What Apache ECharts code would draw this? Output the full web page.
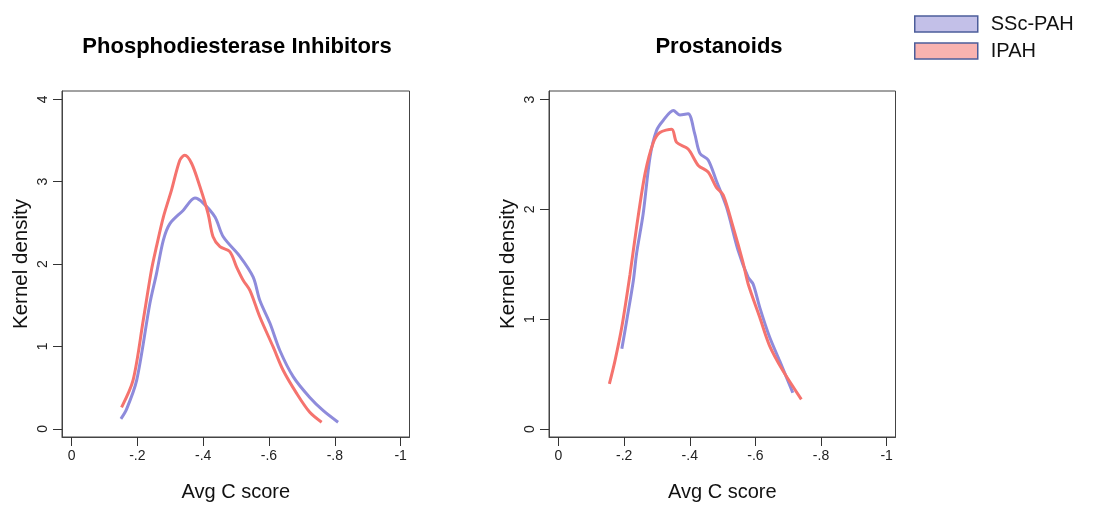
<!DOCTYPE html>
<html>
<head>
<meta charset="utf-8">
<script src="https://cdn.jsdelivr.net/npm/echarts@6/dist/echarts.min.js"></script>
<style>
html,body{margin:0;padding:0;background:#fff;}
#chart{width:1094px;height:511px;}
</style>
</head>
<body>
<div id="chart"></div>
<script>
// ---- data ----
const panelTitles = ['Phosphodiesterase Inhibitors', 'Prostanoids'];
const seriesNames = ['SSc-PAH', 'IPAH'];
const xTicks = [0, -0.2, -0.4, -0.6, -0.8, -1];
const yTicksLeft = [0, 1, 2, 3, 4];
const yTicksRight = [0, 1, 2, 3];

// Phosphodiesterase Inhibitors
const pdeSScX = [-0.15, -0.167, -0.198, -0.238, -0.258, -0.279, -0.299, -0.339, -0.375, -0.40, -0.436, -0.461, -0.512, -0.552, -0.572, -0.603, -0.633, -0.674, -0.724, -0.765, -0.81];
const pdeSScY = [0.12, 0.235, 0.59, 1.52, 1.88, 2.29, 2.49, 2.65, 2.80, 2.74, 2.57, 2.33, 2.09, 1.84, 1.56, 1.28, 0.95, 0.63, 0.38, 0.22, 0.08];
const pdeIpahX = [-0.152, -0.187, -0.218, -0.243, -0.258, -0.279, -0.304, -0.329, -0.344, -0.365, -0.39, -0.415, -0.43, -0.451, -0.481, -0.502, -0.522, -0.542, -0.572, -0.613, -0.643, -0.684, -0.724, -0.76];
const pdeIpahY = [0.26, 0.59, 1.32, 1.93, 2.21, 2.57, 2.90, 3.26, 3.32, 3.22, 2.94, 2.61, 2.33, 2.21, 2.15, 1.96, 1.80, 1.68, 1.36, 0.99, 0.71, 0.43, 0.20, 0.08];

// Prostanoids
const proSScX = [-0.193, -0.208, -0.228, -0.238, -0.258, -0.279, -0.299, -0.319, -0.35, -0.37, -0.395, -0.415, -0.431, -0.456, -0.481, -0.512, -0.547, -0.578, -0.593, -0.613, -0.643, -0.674, -0.714];
const proSScY = [0.73, 0.99, 1.35, 1.60, 1.96, 2.48, 2.72, 2.81, 2.90, 2.86, 2.87, 2.69, 2.51, 2.45, 2.26, 2.02, 1.63, 1.38, 1.32, 1.11, 0.84, 0.62, 0.33];
const proIpahX = [-0.155, -0.172, -0.193, -0.218, -0.238, -0.264, -0.289, -0.309, -0.345, -0.36, -0.395, -0.426, -0.456, -0.481, -0.502, -0.532, -0.562, -0.578, -0.613, -0.643, -0.684, -0.74];
const proIpahY = [0.41, 0.62, 0.93, 1.41, 1.84, 2.33, 2.61, 2.70, 2.73, 2.61, 2.55, 2.40, 2.34, 2.20, 2.13, 1.84, 1.52, 1.32, 1.02, 0.76, 0.53, 0.27];

// ---- helpers ----
const zip = (xs, ys) => xs.map((x, i) => [x, ys[i]]);
const fmtX = v => {
  if (Math.abs(v) < 1e-9) return '0';
  if (Number.isInteger(v)) return String(v);
  return v.toFixed(1).replace('0.', '.');
};
const FONT = '"Liberation Sans", Arial, sans-serif';
const BLUE = '#8e8bdb';
const RED = '#f5736e';
const AXISCOL = '#333';

function xAxisCfg(idx) {
  return {
    type: 'value', gridIndex: idx, inverse: true,
    min: -1.027, max: 0.029,
    axisLine: { show: true, onZero: false, lineStyle: { color: '#444', width: 1 } },
    splitLine: { show: false },
    axisTick: { show: true, inside: false, customValues: xTicks, length: 9, lineStyle: { color: AXISCOL, width: 1 } },
    axisLabel: { customValues: xTicks, formatter: fmtX, color: '#222', fontSize: 14, fontFamily: FONT, margin: 12 },
    name: 'Avg C score', nameLocation: 'middle', nameGap: 45,
    nameTextStyle: { fontSize: 20, fontFamily: FONT, color: '#111' }
  };
}
function yAxisCfg(idx, min, max, ticks) {
  return {
    type: 'value', gridIndex: idx, min: min, max: max,
    axisLine: { show: true, onZero: false, lineStyle: { color: '#444', width: 1 } },
    splitLine: { show: false },
    axisTick: { show: true, inside: false, customValues: ticks, length: 9, lineStyle: { color: AXISCOL, width: 1 } },
    axisLabel: { customValues: ticks, rotate: 90, color: '#222', fontSize: 14, fontFamily: FONT, margin: 12 },
    name: 'Kernel density', nameLocation: 'middle', nameGap: 30,
    nameTextStyle: { fontSize: 20.5, fontFamily: FONT, color: '#111' }
  };
}
function lineSeries(name, data, color, idx) {
  return {
    type: 'line', name: name, xAxisIndex: idx, yAxisIndex: idx,
    data: data, showSymbol: false, symbol: 'none', smooth: 0.3,
    lineStyle: { color: color, width: 3 }, itemStyle: { color: color },
    z: name === 'IPAH' ? 3 : 2
  };
}

const chart = echarts.init(document.getElementById('chart'), null, { renderer: 'canvas' });
chart.setOption({
  animation: false,
  backgroundColor: '#fff',
  title: [
    { text: panelTitles[0], left: 232, top: 31, textAlign: 'center',
      textStyle: { fontSize: 22, fontWeight: 'bold', fontFamily: FONT, color: '#000' } },
    { text: panelTitles[1], left: 714, top: 31, textAlign: 'center',
      textStyle: { fontSize: 22, fontWeight: 'bold', fontFamily: FONT, color: '#000' } }
  ],
  legend: {
    orient: 'vertical', left: 909, top: 9, itemWidth: 63, itemHeight: 16, itemGap: 7,
    selectedMode: false,
    textStyle: { fontSize: 20, fontFamily: FONT, color: '#111', padding: [0, 0, 0, 8] },
    data: [
      { name: seriesNames[0], icon: 'rect', itemStyle: { color: '#c3c0e8', borderColor: '#4c5d9a', borderWidth: 1.5 } },
      { name: seriesNames[1], icon: 'rect', itemStyle: { color: '#f9b3b0', borderColor: '#4c5d9a', borderWidth: 1.5 } }
    ]
  },
  grid: [
    { left: 62, top: 91, width: 347.5, height: 346, show: true, borderColor: '#444', borderWidth: 1, backgroundColor: 'transparent' },
    { left: 549, top: 91, width: 346.5, height: 346, show: true, borderColor: '#444', borderWidth: 1, backgroundColor: 'transparent' }
  ],
  xAxis: [xAxisCfg(0), xAxisCfg(1)],
  yAxis: [yAxisCfg(0, -0.10, 4.10, yTicksLeft), yAxisCfg(1, -0.073, 3.078, yTicksRight)],
  series: [
    lineSeries(seriesNames[0], zip(pdeSScX, pdeSScY), BLUE, 0),
    lineSeries(seriesNames[1], zip(pdeIpahX, pdeIpahY), RED, 0),
    lineSeries(seriesNames[0], zip(proSScX, proSScY), BLUE, 1),
    lineSeries(seriesNames[1], zip(proIpahX, proIpahY), RED, 1)
  ]
});
</script>
</body>
</html>
